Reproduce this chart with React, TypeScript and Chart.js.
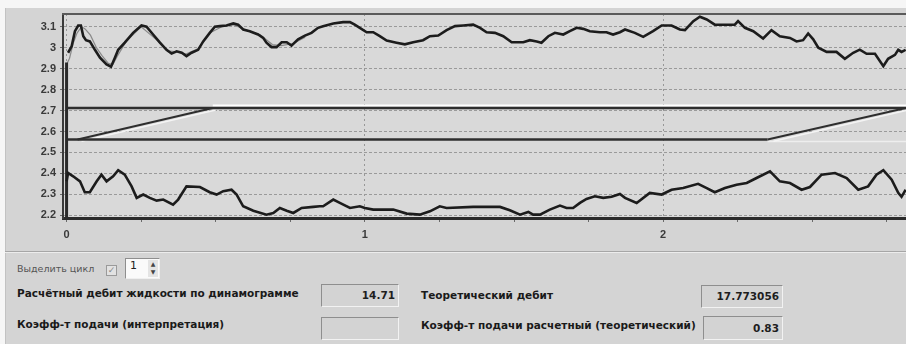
import React, { useEffect, useRef } from "react";
import { Chart, registerables } from "chart.js";

Chart.register(...registerables);

// ---- data (x: stroke in units, y: load) ----
const upperX = [0.005, 0.017, 0.028, 0.039, 0.048, 0.056, 0.065, 0.078, 0.095, 0.112, 0.134, 0.149, 0.162, 0.173, 0.195, 0.223, 0.251, 0.268, 0.29, 0.313, 0.335, 0.352, 0.369, 0.386, 0.402, 0.419, 0.441, 0.458, 0.48, 0.497, 0.514, 0.536, 0.559, 0.575, 0.592, 0.614, 0.642, 0.659, 0.67, 0.687, 0.704, 0.721, 0.738, 0.754, 0.776, 0.799, 0.821, 0.843, 0.86, 0.894, 0.927, 0.95, 0.966, 0.983, 1.006, 1.028, 1.05, 1.073, 1.106, 1.134, 1.162, 1.195, 1.218, 1.246, 1.274, 1.302, 1.33, 1.363, 1.386, 1.408, 1.436, 1.464, 1.492, 1.531, 1.553, 1.576, 1.592, 1.615, 1.637, 1.665, 1.687, 1.71, 1.732, 1.754, 1.788, 1.81, 1.832, 1.855, 1.872, 1.905, 1.933, 1.966, 1.995, 2.028, 2.056, 2.073, 2.101, 2.123, 2.146, 2.173, 2.207, 2.24, 2.251, 2.274, 2.302, 2.335, 2.363, 2.391, 2.425, 2.447, 2.469, 2.486, 2.503, 2.52, 2.548, 2.581, 2.609, 2.637, 2.659, 2.682, 2.71, 2.738, 2.754, 2.777, 2.788, 2.799, 2.813];
const upperY = [2.976, 3.007, 3.079, 3.106, 3.106, 3.055, 3.036, 3.03, 2.99, 2.952, 2.92, 2.909, 2.952, 2.99, 3.024, 3.071, 3.106, 3.1, 3.063, 3.024, 2.99, 2.972, 2.983, 2.976, 2.96, 2.976, 2.99, 3.03, 3.071, 3.1, 3.103, 3.106, 3.116, 3.11, 3.087, 3.079, 3.063, 3.047, 3.024, 3.003, 3.003, 3.026, 3.026, 3.01, 3.04, 3.058, 3.071, 3.095, 3.103, 3.116, 3.122, 3.122, 3.11, 3.095, 3.074, 3.074, 3.055, 3.034, 3.024, 3.016, 3.026, 3.036, 3.055, 3.058, 3.084, 3.103, 3.106, 3.11, 3.095, 3.074, 3.071, 3.055, 3.026, 3.026, 3.036, 3.03, 3.024, 3.055, 3.071, 3.063, 3.079, 3.095, 3.09, 3.079, 3.074, 3.074, 3.063, 3.074, 3.087, 3.071, 3.052, 3.079, 3.106, 3.106, 3.087, 3.084, 3.127, 3.148, 3.135, 3.11, 3.11, 3.11, 3.127, 3.095, 3.079, 3.044, 3.084, 3.055, 3.047, 3.03, 3.036, 3.068, 3.04, 3.0, 2.98, 2.98, 2.947, 2.976, 2.991, 2.971, 2.971, 2.912, 2.947, 2.966, 2.99, 2.98, 2.99];

const ghostX = [0, 0.01, 0.022, 0.035, 0.05, 0.062, 0.08, 0.1, 0.12, 0.14, 0.155, 0.17, 0.2, 0.25, 0.3, 0.34, 0.37, 0.4, 0.44, 0.48, 0.52, 0.56, 0.6, 0.65, 0.69, 0.72, 0.76, 0.8];
const ghostY = [2.92, 2.95, 3.02, 3.07, 3.1, 3.09, 3.06, 3.0, 2.96, 2.925, 2.92, 2.96, 3.03, 3.1, 3.04, 2.985, 2.98, 2.97, 2.995, 3.07, 3.1, 3.11, 3.085, 3.06, 3.015, 3.01, 3.02, 3.05];

const lowerX = [0, 0.005, 0.022, 0.045, 0.061, 0.078, 0.101, 0.117, 0.134, 0.156, 0.173, 0.195, 0.218, 0.235, 0.257, 0.279, 0.302, 0.324, 0.357, 0.374, 0.402, 0.447, 0.48, 0.503, 0.525, 0.553, 0.57, 0.592, 0.626, 0.67, 0.693, 0.715, 0.738, 0.76, 0.788, 0.827, 0.849, 0.86, 0.894, 0.916, 0.95, 0.983, 1.0, 1.028, 1.095, 1.14, 1.184, 1.218, 1.251, 1.274, 1.363, 1.453, 1.486, 1.52, 1.548, 1.564, 1.587, 1.62, 1.654, 1.676, 1.698, 1.721, 1.743, 1.771, 1.799, 1.827, 1.855, 1.872, 1.911, 1.955, 1.995, 2.028, 2.067, 2.117, 2.146, 2.173, 2.207, 2.246, 2.28, 2.313, 2.358, 2.391, 2.425, 2.464, 2.492, 2.531, 2.576, 2.615, 2.654, 2.687, 2.715, 2.738, 2.766, 2.788, 2.799, 2.813];
const lowerY = [2.362, 2.402, 2.386, 2.362, 2.31, 2.31, 2.362, 2.394, 2.362, 2.386, 2.415, 2.394, 2.338, 2.283, 2.299, 2.283, 2.27, 2.275, 2.251, 2.275, 2.338, 2.335, 2.31, 2.299, 2.315, 2.322, 2.299, 2.243, 2.222, 2.203, 2.211, 2.235, 2.222, 2.211, 2.235, 2.24, 2.243, 2.243, 2.275, 2.259, 2.235, 2.243, 2.235, 2.227, 2.227, 2.208, 2.203, 2.219, 2.243, 2.235, 2.24, 2.24, 2.224, 2.203, 2.216, 2.203, 2.203, 2.227, 2.246, 2.235, 2.235, 2.259, 2.278, 2.291, 2.283, 2.288, 2.302, 2.283, 2.259, 2.307, 2.299, 2.322, 2.33, 2.35, 2.33, 2.31, 2.33, 2.346, 2.354, 2.378, 2.41, 2.362, 2.354, 2.322, 2.335, 2.394, 2.402, 2.378, 2.322, 2.338, 2.394, 2.415, 2.37, 2.307, 2.288, 2.322];

const edgeX = [0, 0];
const edgeY = [2.93, 2.187];

const topLineX = [0, 2.814];
const topLineY = [2.712, 2.712];
const bottomLineX = [0, 2.35];
const bottomLineY = [2.562, 2.562];
const leftRampX = [0.037, 0.49];
const leftRampY = [2.562, 2.712];
const rightRampX = [2.35, 2.814];
const rightRampY = [2.562, 2.712];
const topWhiteX = [0.49, 2.814];
const topWhiteY = [2.724, 2.724];
const leftRampWhiteX = [0.05, 0.5];
const leftRampWhiteY = [2.553, 2.703];
const rightRampWhiteX = [2.37, 2.814];
const rightRampWhiteY = [2.553, 2.7];
const bottomWhiteX = [2.35, 2.814];
const bottomWhiteY = [2.552, 2.552];

const xTickValues = [0, 0.25, 0.5, 0.75, 1, 1.25, 1.5, 1.75, 2, 2.25, 2.5, 2.75];
const yTickValues = [2.2, 2.3, 2.4, 2.5, 2.6, 2.7, 2.8, 2.9, 3.0, 3.1];
const xRange = [-0.012, 2.814];
const yRange = [2.187, 3.161];

const selectCycleLabel = "Выделить цикл";
const cycleValue = "1";
const fieldLabels = [
  "Расчётный дебит жидкости по динамограмме",
  "Коэфф-т подачи (интерпретация)",
  "Теоретический дебит",
  "Коэфф-т подачи расчетный (теоретический)",
];
const fieldValues = ["14.71", "", "17.773056", "0.83"];

const pts = (xs: number[], ys: number[]) => xs.map((x, i) => ({ x, y: ys[i] }));

const PANEL = "#d4d4d4";
const PLOT_BG = "#d9d9d9";

const framePlugin = {
  id: "frame",
  beforeDraw(chart: any) {
    const { ctx, chartArea } = chart;
    ctx.save();
    ctx.fillStyle = PLOT_BG;
    ctx.fillRect(chartArea.left, chartArea.top, chartArea.right - chartArea.left, chartArea.bottom - chartArea.top);
    ctx.restore();
  },
  afterDraw(chart: any) {
    const { ctx, chartArea } = chart;
    ctx.save();
    ctx.strokeStyle = "#5a5a5a";
    ctx.lineWidth = 2;
    ctx.beginPath();
    ctx.moveTo(chartArea.left - 1, chartArea.top);
    ctx.lineTo(chartArea.right, chartArea.top);
    ctx.stroke();
    ctx.restore();
  },
};

function line(data: any[], color: string, width: number) {
  return {
    data,
    borderColor: color,
    backgroundColor: color,
    borderWidth: width,
    showLine: true,
    pointRadius: 0,
    pointHoverRadius: 0,
    fill: false,
    tension: 0,
  };
}

function DynChart() {
  const ref = useRef<HTMLCanvasElement | null>(null);
  useEffect(() => {
    if (!ref.current) return;
    const dark = "#1c1c1c";
    const chart = new Chart(ref.current, {
      type: "scatter",
      data: {
        datasets: [
          line(pts(upperX, upperY), dark, 2.6),
          line(pts(lowerX, lowerY), dark, 2.6),
          line(pts(edgeX, edgeY), "#2a2a2a", 3),
          line(pts(topLineX, topLineY), "#2e2e2e", 2.6),
          line(pts(bottomLineX, bottomLineY), "#2e2e2e", 2.6),
          line(pts(leftRampX, leftRampY), "#2e2e2e", 2),
          line(pts(rightRampX, rightRampY), "#2e2e2e", 2),
          line(pts(topWhiteX, topWhiteY), "#ffffff", 2),
          line(pts(leftRampWhiteX, leftRampWhiteY), "#f4f4f4", 1.5),
          line(pts(rightRampWhiteX, rightRampWhiteY), "#f4f4f4", 1.5),
          line(pts(bottomWhiteX, bottomWhiteY), "#eeeeee", 1.5),
          line(pts(ghostX, ghostY), "#8a8a8a", 1.2),
        ] as any,
      },
      options: {
        responsive: false,
        animation: false,
        events: [],
        layout: { padding: { top: 14, right: 0, bottom: 0, left: 0 } },
        plugins: { legend: { display: false }, tooltip: { enabled: false } },
        scales: {
          x: {
            type: "linear",
            min: xRange[0],
            max: xRange[1],
            afterBuildTicks: (s: any) => {
              s.ticks = xTickValues.map((v) => ({ value: v }));
            },
            afterFit: (s: any) => {
              s.height = 34;
            },
            ticks: {
              autoSkip: false,
              maxRotation: 0,
              padding: 6,
              color: "#3a3a3a",
              font: { family: "Liberation Sans", size: 11, weight: "bold" },
              callback: (v: any) => (Number.isInteger(Number(v)) ? String(v) : ""),
            },
            grid: {
              color: (c: any) => (c.tick && Number.isInteger(c.tick.value) ? "#979797" : "rgba(0,0,0,0)"),
              tickColor: "#6a6a6a",
              tickLength: 4,
              lineWidth: 1,
            },
            border: { display: true, color: "#2b2b2b", width: 3, dash: [2, 3] },
          },
          y: {
            type: "linear",
            min: yRange[0],
            max: yRange[1],
            afterBuildTicks: (s: any) => {
              s.ticks = yTickValues.map((v) => ({ value: v }));
            },
            afterFit: (s: any) => {
              s.width = 63;
            },
            ticks: {
              autoSkip: false,
              padding: 4,
              color: "#3a3a3a",
              font: { family: "Liberation Sans", size: 11, weight: "bold" },
              callback: (v: any) => String(Number(Number(v).toFixed(1))),
            },
            grid: {
              color: "#9a9a9a",
              tickColor: "#6a6a6a",
              tickLength: 3,
              lineWidth: 1,
            },
            border: { display: true, color: "#3a3a3a", width: 2, dash: [3, 2] },
          },
        },
      },
      plugins: [framePlugin],
    } as any);
    return () => chart.destroy();
  }, []);
  return <canvas ref={ref} width={906} height={252} style={{ display: "block", position: "absolute", left: 0, top: 0 }} />;
}

const labelFont = "'DejaVu Sans', sans-serif";

function Field({ left, top, width, height, value }: { left: number; top: number; width: number; height: number; value: string }) {
  return (
    <div
      style={{
        position: "absolute",
        left,
        top,
        width,
        height,
        boxSizing: "border-box",
        borderTop: "1px solid #8e8e8e",
        borderLeft: "1px solid #8e8e8e",
        borderBottom: "1px solid #f2f2f2",
        borderRight: "1px solid #f2f2f2",
        background: "#d3d3d3",
        textAlign: "right",
        paddingRight: 3,
        font: `bold 10.5px ${labelFont}`,
        lineHeight: `${height - 2}px`,
        color: "#1e1e1e",
      }}
    >
      {value}
    </div>
  );
}

function Label({ left, center, text }: { left: number; center: number; text: string }) {
  return (
    <div
      style={{
        position: "absolute",
        left,
        top: center - 8,
        height: 16,
        lineHeight: "16px",
        font: `bold 10.5px ${labelFont}`,
        color: "#1a1a1a",
        whiteSpace: "nowrap",
      }}
    >
      {text}
    </div>
  );
}

export default function App() {
  return (
    <div style={{ position: "absolute", left: 0, top: 0, width: 906, height: 344, background: "#f6f6f6", overflow: "hidden" }}>
      <div style={{ position: "absolute", left: 5, top: 8, right: 0, bottom: 0, background: PANEL, borderLeft: "1px solid #c2c2c2" }} />
      <DynChart />
      <div style={{ position: "absolute", left: 5, top: 251, width: 901, height: 1, background: "#a6a6a6" }} />
      <div style={{ position: "absolute", left: 5, top: 252, width: 901, height: 1, background: "#ececec" }} />

      <div style={{ position: "absolute", left: 17, top: 263, height: 14, lineHeight: "14px", font: `9.5px ${labelFont}`, color: "#555", whiteSpace: "nowrap" }}>
        {selectCycleLabel}
      </div>
      <div style={{ position: "absolute", left: 106, top: 265, width: 11, height: 11, boxSizing: "border-box", border: "1px solid #9a9a9a", background: "#e2e2e2", color: "#8a8a8a", font: `9px ${labelFont}`, lineHeight: "9px", textAlign: "center" }}>
        ✓
      </div>
      <div style={{ position: "absolute", left: 125, top: 258, width: 35, height: 21, boxSizing: "border-box", borderTop: "1px solid #8e8e8e", borderLeft: "1px solid #8e8e8e", borderBottom: "1px solid #efefef", borderRight: "1px solid #efefef", background: "#fafafa" }}>
        <div style={{ position: "absolute", left: 4, top: 0, lineHeight: "19px", font: `11px ${labelFont}`, color: "#222" }}>{cycleValue}</div>
        <div style={{ position: "absolute", right: 1, top: 1, width: 10, height: 17, background: "#e4e4e4", font: `6px ${labelFont}`, color: "#444", textAlign: "center", lineHeight: "8px" }}>
          ▲<br />▼
        </div>
      </div>

      <Label left={17} center={295} text={fieldLabels[0]} />
      <Label left={17} center={326} text={fieldLabels[1]} />
      <Label left={421} center={297} text={fieldLabels[2]} />
      <Label left={421} center={327} text={fieldLabels[3]} />

      <Field left={321} top={284} width={78} height={23} value={fieldValues[0]} />
      <Field left={321} top={317} width={78} height={23} value={fieldValues[1]} />
      <Field left={701} top={285} width={82} height={23} value={fieldValues[2]} />
      <Field left={703} top={316} width={80} height={24} value={fieldValues[3]} />
    </div>
  );
}
